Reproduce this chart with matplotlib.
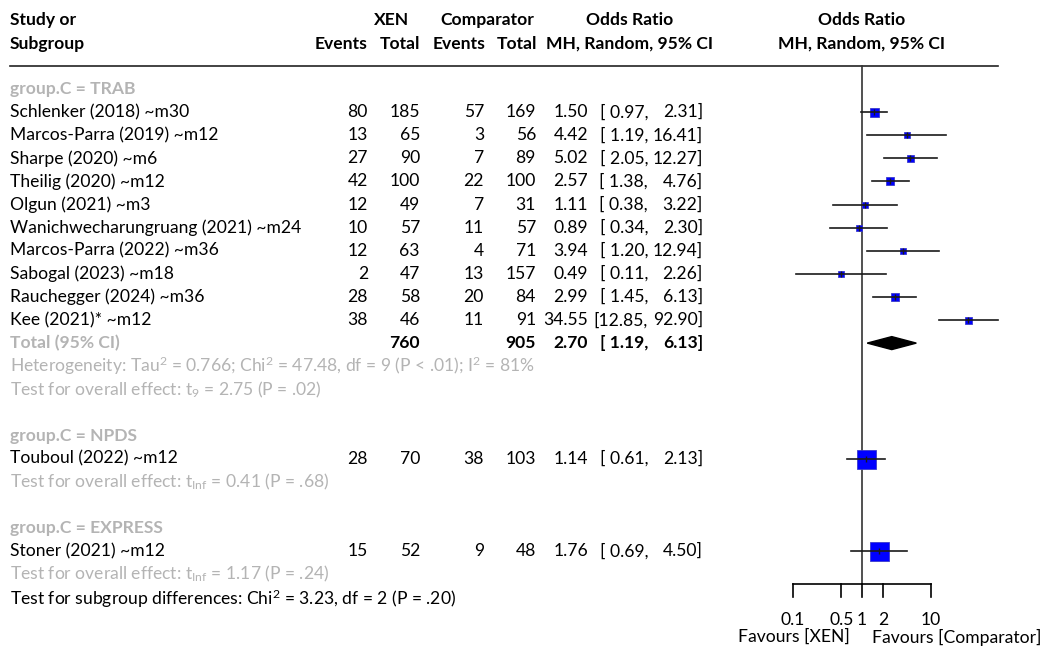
import numpy as np
import matplotlib
matplotlib.use("Agg")
import matplotlib.pyplot as plt

plt.rcParams['font.family'] = ['Lato', 'DejaVu Sans']
plt.rcParams['mathtext.fontset'] = 'custom'
plt.rcParams['mathtext.rm'] = 'Lato'
plt.rcParams['mathtext.default'] = 'regular'

# ---- data ----
studies = ["Schlenker (2018) ~m30", "Marcos-Parra (2019) ~m12", "Sharpe (2020) ~m6",
           "Theilig (2020) ~m12", "Olgun (2021) ~m3", "Wanichwecharungruang (2021) ~m24",
           "Marcos-Parra (2022) ~m36", "Sabogal (2023) ~m18", "Rauchegger (2024) ~m36",
           "Kee (2021)* ~m12", "Touboul (2022) ~m12", "Stoner (2021) ~m12"]
groups = ["TRAB"] * 10 + ["NPDS", "EXPRESS"]
xen_events = [80, 13, 27, 42, 12, 10, 12, 2, 28, 38, 28, 15]
xen_total = [185, 65, 90, 100, 49, 57, 63, 47, 58, 46, 70, 52]
comp_events = [57, 3, 7, 22, 7, 11, 4, 13, 20, 11, 38, 9]
comp_total = [169, 56, 89, 100, 31, 57, 71, 157, 84, 91, 103, 48]
or_est = [1.50, 4.42, 5.02, 2.57, 1.11, 0.89, 3.94, 0.49, 2.99, 34.55, 1.14, 1.76]
or_lo = [0.97, 1.19, 2.05, 1.38, 0.38, 0.34, 1.20, 0.11, 1.45, 12.85, 0.61, 0.69]
or_hi = [2.31, 16.41, 12.27, 4.76, 3.22, 2.30, 12.94, 2.26, 6.13, 92.90, 2.13, 4.50]

pooled_trab = (2.70, 1.19, 6.13)
total_xen_trab = 760
total_comp_trab = 905
het_trab = "Heterogeneity: Tau$^2$ = 0.766; Chi$^2$ = 47.48, df = 9 (P < .01); I$^2$ = 81%"
overall_tests = {"TRAB": "Test for overall effect: t$_9$ = 2.75 (P = .02)",
                 "NPDS": "Test for overall effect: t$_{Inf}$ = 0.41 (P = .68)",
                 "EXPRESS": "Test for overall effect: t$_{Inf}$ = 1.17 (P = .24)"}
subgroup_test = "Test for subgroup differences: Chi$^2$ = 3.23, df = 2 (P = .20)"
tick_vals = [0.1, 0.5, 1, 2, 10]
tick_labels = ["0.1", "0.5", "1", "2", "10"]

# box sizes (px) as drawn in the reference
box_px = [9, 6, 7, 8, 6, 6, 6, 6, 8, 7, 19, 19]

# ---- layout ----
W, H, DPI = 1041, 652, 100
ROW0, ROWH = 89, 23.1          # pixel y of first row, row height
def prow(py):
    return (py - ROW0) / ROWH

X1, DEC = 862, 69              # pixel x of OR=1, pixels per decade
GRAY = "#b4b4b4"
FS = 12.6

fig = plt.figure(figsize=(W / DPI, H / DPI), dpi=DPI)
ax = fig.add_axes([0, 0, 1, 1])
ax.set_xlim(0, W)
ax.set_ylim(prow(H), prow(0))
ax.axis("off")

fx = fig.add_axes([0, 0, 1, 1], sharey=ax)
fx.set_xscale("log")
fx.set_xlim(10 ** ((0 - X1) / DEC), 10 ** ((W - X1) / DEC))
fx.axis("off")
fx.patch.set_alpha(0)

# header
hb = dict(fontsize=FS, fontweight="bold")
y1, y2 = prow(20), prow(44)
ax.text(10, y1, "Study or", ha="left", va="center", **hb)
ax.text(10, y2, "Subgroup", ha="left", va="center", **hb)
ax.text(392, y1, "XEN", ha="center", va="center", **hb)
ax.text(487, y1, "Comparator", ha="center", va="center", **hb)
ax.text(630, y1, "Odds Ratio", ha="center", va="center", **hb)
ax.text(862, y1, "Odds Ratio", ha="center", va="center", **hb)
for xr, s in [(368, "Events"), (420, "Total"), (485, "Events"), (537, "Total")]:
    ax.text(xr, y2, s, ha="right", va="center", **hb)
ax.text(630, y2, "MH, Random, 95% CI", ha="center", va="center", **hb)
ax.text(862, y2, "MH, Random, 95% CI", ha="center", va="center", **hb)
ax.plot([10, 998], [prow(66), prow(66)], color="#222222", lw=1.2)

# rows
group_rows = {"TRAB": 0, "NPDS": 15, "EXPRESS": 19}
study_rows = list(range(1, 11)) + [16, 20]
test_rows = {"TRAB": 13, "NPDS": 17, "EXPRESS": 21}

def or_text(y, est, lo, hi, **kw):
    ax.text(588, y, f"{est:.2f}", ha="right", va="center", fontsize=FS, **kw)
    ax.text(648, y, f"[{lo:5.2f},", ha="right", va="center", fontsize=FS, **kw)
    ax.text(703, y, f"{hi:.2f}]", ha="right", va="center", fontsize=FS, **kw)

for g, r in group_rows.items():
    ax.text(10, r, f"group.C = {g}", ha="left", va="center", fontsize=FS,
            fontweight="bold", color=GRAY)
for g, r in test_rows.items():
    ax.text(10, r, overall_tests[g], ha="left", va="center", fontsize=FS, color=GRAY)

for i, r in enumerate(study_rows):
    ax.text(10, r, studies[i], ha="left", va="center", fontsize=FS)
    ax.text(368, r, str(xen_events[i]), ha="right", va="center", fontsize=FS)
    ax.text(420, r, str(xen_total[i]), ha="right", va="center", fontsize=FS)
    ax.text(484, r, str(comp_events[i]), ha="right", va="center", fontsize=FS)
    ax.text(536, r, str(comp_total[i]), ha="right", va="center", fontsize=FS)
    or_text(r, or_est[i], or_lo[i], or_hi[i])
    # forest marks
    fx.plot(or_est[i], r, marker="s", ms=box_px[i] * 0.72, color="#0000ff",
            mec="#3a3acc", mew=0.6, zorder=3)
    fx.plot([or_lo[i], or_hi[i]], [r, r], color="#1a1a1a", lw=1.2, zorder=4)
    fx.plot(or_est[i], r, marker="|", ms=4, color="#1a1a1a", mew=1.0, zorder=4)

# pooled TRAB
ax.text(10, 11, "Total (95% CI)", ha="left", va="center", fontsize=FS,
        fontweight="bold", color=GRAY)
ax.text(420, 11, str(total_xen_trab), ha="right", va="center", fontsize=FS, fontweight="bold")
ax.text(536, 11, str(total_comp_trab), ha="right", va="center", fontsize=FS, fontweight="bold")
or_text(11, *pooled_trab, fontweight="bold")
est, lo, hi = pooled_trab
dh = 6.5 / ROWH
fx.fill([lo, est, hi, est], [11, 11 - dh, 11, 11 + dh], color="black", zorder=3)
ax.text(10, 12, het_trab, ha="left", va="center", fontsize=FS, color=GRAY)

ax.text(10, 22.05, subgroup_test, ha="left", va="center", fontsize=FS)

# null line and x axis
ya = prow(584)
fx.plot([1, 1], [prow(66), ya], color="#333333", lw=1.2)
fx.plot([tick_vals[0], tick_vals[-1]], [ya, ya], color="black", lw=1.2)
for t, lab in zip(tick_vals, tick_labels):
    fx.plot([t, t], [ya, prow(597)], color="black", lw=1.2)
    fx.text(t, prow(620), lab, ha="center", va="center", fontsize=FS)
fx.text(10 ** ((850 - X1) / DEC), prow(637), "Favours [XEN]", ha="right", va="center", fontsize=FS)
fx.text(10 ** ((872 - X1) / DEC), prow(637), "Favours [Comparator]", ha="left", va="center", fontsize=FS)

fig.savefig("out.png", dpi=DPI)
